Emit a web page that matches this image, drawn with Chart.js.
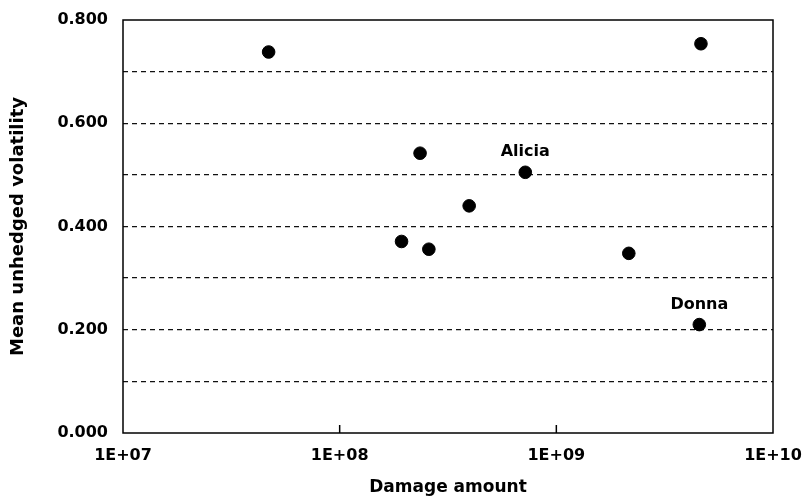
<!DOCTYPE html>
<html>
<head>
<meta charset="utf-8">
<script src="https://cdn.jsdelivr.net/npm/chart.js@4.4.1/dist/chart.umd.min.js"></script>
<style>
  html, body { margin: 0; padding: 0; background: #fff; }
  canvas { display: block; }
</style>
</head>
<body>
<canvas id="volChart" width="811" height="502"></canvas>
<script>
// storm damage vs mean unhedged volatility
const damage = [4.7e7, 1.93e8, 2.35e8, 2.58e8, 3.96e8, 7.19e8, 2.16e9, 4.57e9, 4.65e9];
const volatility = [0.738, 0.371, 0.542, 0.356, 0.440, 0.505, 0.348, 0.210, 0.754];
const stormNames = ['', '', '', '', '', 'Alicia', '', 'Donna', ''];

const xTicks = [1e7, 1e8, 1e9, 1e10];
const xTickLabels = ['1E+07', '1E+08', '1E+09', '1E+10'];
const yTicks = [0, 0.1, 0.2, 0.3, 0.4, 0.5, 0.6, 0.7, 0.8];
const yTickLabels = ['0.000', '', '0.200', '', '0.400', '', '0.600', '', '0.800'];

const FONT = 'DejaVu Sans';

// frame round the plot, small inside ticks on the x axis, storm names
const extras = {
  id: 'extras',
  afterDraw(chart) {
    const ctx = chart.ctx;
    const a = chart.chartArea;
    const xs = chart.scales.x;
    ctx.save();
    ctx.strokeStyle = '#000';
    ctx.lineWidth = 1.5;
    ctx.setLineDash([]);
    ctx.strokeRect(a.left, a.top, a.right - a.left, a.bottom - a.top);
    // inner tick marks
    xTicks.slice(1, -1).forEach(v => {
      const px = xs.getPixelForValue(v);
      ctx.beginPath();
      ctx.moveTo(px, a.bottom);
      ctx.lineTo(px, a.bottom - 8);
      ctx.stroke();
    });
    // labels above the named points
    const meta = chart.getDatasetMeta(0);
    ctx.fillStyle = '#000';
    ctx.font = 'bold 16px "' + FONT + '"';
    ctx.textAlign = 'center';
    ctx.textBaseline = 'middle';
    meta.data.forEach((pt, i) => {
      if (stormNames[i]) ctx.fillText(stormNames[i], pt.x, pt.y - 20);
    });
    ctx.restore();
  }
};

const chart = new Chart(document.getElementById('volChart').getContext('2d'), {
  type: 'scatter',
  data: {
    datasets: [{
      data: damage.map((d, i) => ({ x: d, y: volatility[i] })),
      backgroundColor: '#000',
      borderColor: '#000',
      pointRadius: 6.3,
      pointHoverRadius: 6.3
    }]
  },
  options: {
    responsive: false,
    animation: false,
    layout: { padding: { top: 20, right: 38, left: 0, bottom: 0 } },
    plugins: {
      legend: { display: false },
      tooltip: { enabled: false }
    },
    scales: {
      x: {
        type: 'logarithmic',
        min: 1e7,
        max: 1e10,
        afterBuildTicks: s => { s.ticks = xTicks.map(v => ({ value: v })); },
        afterFit: s => { s.height = 69; s.paddingLeft = 0; s.paddingRight = 0; },
        ticks: {
          color: '#000',
          font: { family: FONT, size: 16, weight: 'bold' },
          padding: 13,
          maxRotation: 0,
          autoSkip: false,
          callback: (v, i) => xTickLabels[i]
        },
        grid: { display: false, drawTicks: false },
        border: { display: false },
        title: {
          display: true,
          text: 'Damage amount',
          color: '#000',
          font: { family: FONT, size: 17, weight: 'bold' },
          padding: { top: 0, bottom: 4 }
        }
      },
      y: {
        min: 0,
        max: 0.8,
        afterBuildTicks: s => { s.ticks = yTicks.map(v => ({ value: v })); },
        afterFit: s => { s.width = 123; s.paddingTop = 0; s.paddingBottom = 0; },
        ticks: {
          color: '#000',
          font: { family: FONT, size: 16, weight: 'bold' },
          padding: 15,
          autoSkip: false,
          callback: (v, i) => yTickLabels[i]
        },
        grid: {
          drawTicks: false,
          lineWidth: 1.3,
          color: c => (c.tick && (c.tick.value <= 0 || c.tick.value >= 0.8)) ? 'rgba(0,0,0,0)' : '#111'
        },
        border: { display: false, dash: [5, 4] },
        title: {
          display: true,
          text: 'Mean unhedged volatility',
          color: '#000',
          font: { family: FONT, size: 18, weight: 'bold' },
          padding: { top: 8, bottom: 0 }
        }
      }
    }
  },
  plugins: [extras]
});
</script>
</body>
</html>
